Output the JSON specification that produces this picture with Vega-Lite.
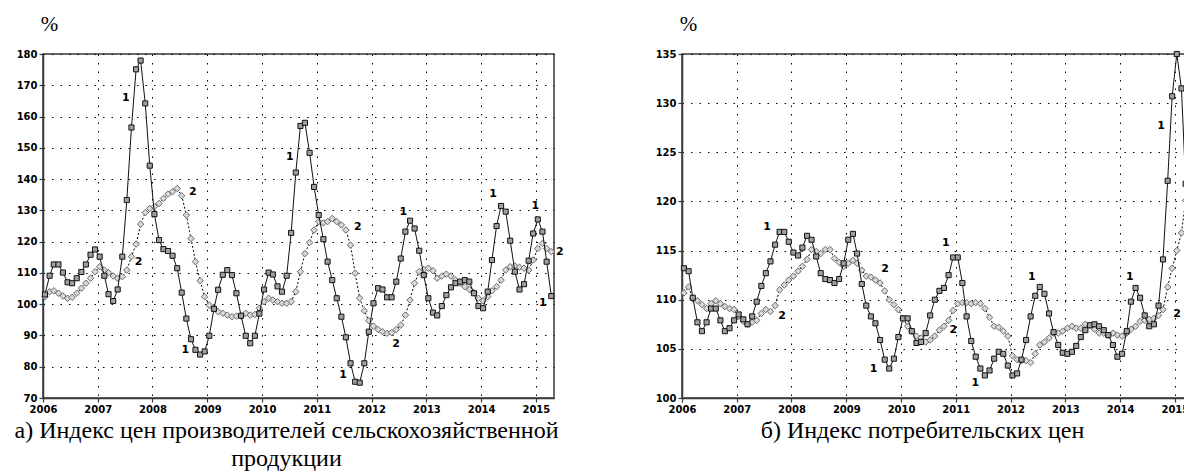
{
  "$schema": "https://vega.github.io/schema/vega-lite/v6.json",
  "background": "white",
  "padding": {"left": 13, "top": 12, "right": 0, "bottom": 0},
  "bounds": "flush",
  "spacing": 128,
  "config": {
    "view": {"stroke": "#3a3a3a", "strokeWidth": 1.5},
    "axis": {
      "domainColor": "#3a3a3a", "domainWidth": 1.5,
      "tickColor": "#3a3a3a", "tickWidth": 1.2, "tickSize": 4,
      "gridColor": "#000", "gridDash": [1.5, 7], "gridWidth": 1, "gridOpacity": 1,
      "labelFont": "DejaVu Sans", "labelFontWeight": "bold", "labelFontSize": 10, "labelColor": "#000", "labelPadding": 2, "labelOverlap": false,
      "titleFont": "Liberation Serif", "titleFontWeight": "normal", "titleColor": "#000"
    }
  },
  "datasets": {
    "agri": [
      {"d":"2006-01-14","a":103.1,"b":102.4},{"d":"2006-02-14","a":109.1,"b":104.0},{"d":"2006-03-14","a":112.7,"b":104.3},{"d":"2006-04-14","a":112.7,"b":103.5},{"d":"2006-05-14","a":110.1,"b":102.6},{"d":"2006-06-14","a":107.0,"b":101.9},{"d":"2006-07-14","a":106.7,"b":102.2},{"d":"2006-08-14","a":108.3,"b":103.5},{"d":"2006-09-14","a":110.3,"b":105.1},{"d":"2006-10-14","a":112.7,"b":106.7},{"d":"2006-11-14","a":115.8,"b":108.3},{"d":"2006-12-14","a":117.5,"b":110.4},
      {"d":"2007-01-14","a":115.2,"b":112.0},{"d":"2007-02-14","a":109.1,"b":110.9},{"d":"2007-03-14","a":103.2,"b":110.1},{"d":"2007-04-14","a":101.0,"b":109.0},{"d":"2007-05-14","a":104.7,"b":108.3},{"d":"2007-06-14","a":115.2,"b":108.8},{"d":"2007-07-14","a":133.3,"b":110.9},{"d":"2007-08-14","a":156.5,"b":115.2},{"d":"2007-09-14","a":175.1,"b":119.2},{"d":"2007-10-14","a":177.9,"b":125.6},{"d":"2007-11-14","a":164.2,"b":129.3},{"d":"2007-12-14","a":144.3,"b":130.6},
      {"d":"2008-01-14","a":128.8,"b":131.2},{"d":"2008-02-14","a":120.5,"b":132.2},{"d":"2008-03-14","a":117.6,"b":133.8},{"d":"2008-04-14","a":117.0,"b":135.2},{"d":"2008-05-14","a":115.5,"b":136.0},{"d":"2008-06-14","a":111.5,"b":137.0},{"d":"2008-07-14","a":103.7,"b":134.7},{"d":"2008-08-14","a":95.4,"b":128.5},{"d":"2008-09-14","a":88.8,"b":121.0},{"d":"2008-10-14","a":85.4,"b":113.6},{"d":"2008-11-14","a":83.9,"b":107.5},{"d":"2008-12-14","a":84.9,"b":102.4},
      {"d":"2009-01-14","a":89.9,"b":99.7},{"d":"2009-02-14","a":98.5,"b":98.7},{"d":"2009-03-14","a":104.6,"b":97.6},{"d":"2009-04-14","a":109.4,"b":97.1},{"d":"2009-05-14","a":110.9,"b":96.5},{"d":"2009-06-14","a":109.3,"b":96.0},{"d":"2009-07-14","a":103.5,"b":96.2},{"d":"2009-08-14","a":96.3,"b":96.2},{"d":"2009-09-14","a":89.9,"b":97.1},{"d":"2009-10-14","a":87.5,"b":96.5},{"d":"2009-11-14","a":89.9,"b":96.7},{"d":"2009-12-14","a":97.0,"b":98.7},
      {"d":"2010-01-14","a":104.7,"b":100.8},{"d":"2010-02-14","a":110.1,"b":101.9},{"d":"2010-03-14","a":109.5,"b":101.3},{"d":"2010-04-14","a":105.7,"b":100.8},{"d":"2010-05-14","a":104.0,"b":100.3},{"d":"2010-06-14","a":109.1,"b":100.3},{"d":"2010-07-14","a":122.8,"b":100.8},{"d":"2010-08-14","a":142.1,"b":104.0},{"d":"2010-09-14","a":157.0,"b":110.4},{"d":"2010-10-14","a":158.0,"b":116.2},{"d":"2010-11-14","a":148.4,"b":119.7},{"d":"2010-12-14","a":137.5,"b":123.7},
      {"d":"2011-01-14","a":128.5,"b":126.4},{"d":"2011-02-14","a":120.8,"b":126.0},{"d":"2011-03-14","a":113.6,"b":126.4},{"d":"2011-04-14","a":107.7,"b":127.4},{"d":"2011-05-14","a":101.9,"b":126.4},{"d":"2011-06-14","a":96.0,"b":125.3},{"d":"2011-07-14","a":89.4,"b":123.7},{"d":"2011-08-14","a":81.1,"b":118.9},{"d":"2011-09-14","a":75.2,"b":109.9},{"d":"2011-10-14","a":74.9,"b":101.9},{"d":"2011-11-14","a":81.1,"b":97.9},{"d":"2011-12-14","a":91.2,"b":94.7},
      {"d":"2012-01-14","a":100.3,"b":93.0},{"d":"2012-02-14","a":105.1,"b":91.9},{"d":"2012-03-14","a":104.7,"b":91.2},{"d":"2012-04-14","a":102.2,"b":90.7},{"d":"2012-05-14","a":102.2,"b":90.9},{"d":"2012-06-14","a":107.2,"b":91.9},{"d":"2012-07-14","a":114.6,"b":93.3},{"d":"2012-08-14","a":123.2,"b":96.5},{"d":"2012-09-14","a":126.7,"b":101.3},{"d":"2012-10-14","a":124.2,"b":106.7},{"d":"2012-11-14","a":117.1,"b":110.4},{"d":"2012-12-14","a":109.3,"b":111.1},
      {"d":"2013-01-14","a":101.9,"b":111.5},{"d":"2013-02-14","a":97.3,"b":110.7},{"d":"2013-03-14","a":96.4,"b":108.3},{"d":"2013-04-14","a":99.4,"b":109.0},{"d":"2013-05-14","a":102.9,"b":109.6},{"d":"2013-06-14","a":105.4,"b":109.0},{"d":"2013-07-14","a":106.7,"b":107.7},{"d":"2013-08-14","a":107.2,"b":106.7},{"d":"2013-09-14","a":107.7,"b":105.6},{"d":"2013-10-14","a":107.2,"b":104.7},{"d":"2013-11-14","a":103.5,"b":103.7},{"d":"2013-12-14","a":99.4,"b":101.9},
      {"d":"2014-01-14","a":98.7,"b":101.1},{"d":"2014-02-14","a":104.0,"b":102.4},{"d":"2014-03-14","a":114.1,"b":104.3},{"d":"2014-04-14","a":125.0,"b":105.6},{"d":"2014-05-14","a":131.4,"b":107.7},{"d":"2014-06-14","a":129.6,"b":110.9},{"d":"2014-07-14","a":120.3,"b":112.0},{"d":"2014-08-14","a":110.4,"b":112.2},{"d":"2014-09-14","a":104.7,"b":111.8},{"d":"2014-10-14","a":106.4,"b":111.5},{"d":"2014-11-14","a":113.9,"b":110.9},{"d":"2014-12-14","a":122.6,"b":114.1},
      {"d":"2015-01-14","a":127.1,"b":117.8},{"d":"2015-02-14","a":123.2,"b":119.4},{"d":"2015-03-14","a":113.6,"b":117.8},{"d":"2015-04-14","a":102.6,"b":116.8}
    ],
    "cpi": [
      {"d":"2006-01-14","a":113.2,"b":110.7},{"d":"2006-02-14","a":112.9,"b":111.3},{"d":"2006-03-14","a":110.2,"b":110.1},{"d":"2006-04-14","a":107.7,"b":109.9},{"d":"2006-05-14","a":106.8,"b":109.5},{"d":"2006-06-14","a":107.7,"b":109.1},{"d":"2006-07-14","a":109.1,"b":109.6},{"d":"2006-08-14","a":109.1,"b":109.9},{"d":"2006-09-14","a":107.9,"b":109.6},{"d":"2006-10-14","a":106.8,"b":109.3},{"d":"2006-11-14","a":107.1,"b":109.1},{"d":"2006-12-14","a":107.9,"b":109.0},
      {"d":"2007-01-14","a":108.5,"b":108.3},{"d":"2007-02-14","a":108.0,"b":107.8},{"d":"2007-03-14","a":107.5,"b":107.5},{"d":"2007-04-14","a":108.3,"b":107.7},{"d":"2007-05-14","a":109.8,"b":107.9},{"d":"2007-06-14","a":111.4,"b":108.6},{"d":"2007-07-14","a":112.7,"b":109.0},{"d":"2007-08-14","a":113.9,"b":108.8},{"d":"2007-09-14","a":115.6,"b":109.4},{"d":"2007-10-14","a":116.9,"b":111.0},{"d":"2007-11-14","a":116.9,"b":111.5},{"d":"2007-12-14","a":115.9,"b":112.0},
      {"d":"2008-01-14","a":114.8,"b":112.4},{"d":"2008-02-14","a":114.5,"b":112.9},{"d":"2008-03-14","a":115.3,"b":113.4},{"d":"2008-04-14","a":116.5,"b":114.1},{"d":"2008-05-14","a":116.1,"b":115.1},{"d":"2008-06-14","a":114.4,"b":114.9},{"d":"2008-07-14","a":112.7,"b":114.7},{"d":"2008-08-14","a":112.1,"b":115.1},{"d":"2008-09-14","a":112.0,"b":115.1},{"d":"2008-10-14","a":111.7,"b":114.2},{"d":"2008-11-14","a":112.1,"b":113.8},{"d":"2008-12-14","a":113.7,"b":113.4},
      {"d":"2009-01-14","a":116.1,"b":113.7},{"d":"2009-02-14","a":116.7,"b":114.0},{"d":"2009-03-14","a":114.7,"b":113.7},{"d":"2009-04-14","a":111.6,"b":113.0},{"d":"2009-05-14","a":109.4,"b":112.4},{"d":"2009-06-14","a":108.3,"b":112.3},{"d":"2009-07-14","a":107.6,"b":112.0},{"d":"2009-08-14","a":105.9,"b":111.7},{"d":"2009-09-14","a":103.9,"b":110.9},{"d":"2009-10-14","a":103.0,"b":110.0},{"d":"2009-11-14","a":104.0,"b":109.5},{"d":"2009-12-14","a":106.2,"b":109.0},
      {"d":"2010-01-14","a":108.1,"b":108.1},{"d":"2010-02-14","a":108.1,"b":107.3},{"d":"2010-03-14","a":106.8,"b":106.8},{"d":"2010-04-14","a":105.6,"b":106.3},{"d":"2010-05-14","a":105.7,"b":106.1},{"d":"2010-06-14","a":106.6,"b":105.7},{"d":"2010-07-14","a":108.4,"b":105.9},{"d":"2010-08-14","a":110.0,"b":106.3},{"d":"2010-09-14","a":110.9,"b":106.9},{"d":"2010-10-14","a":111.2,"b":107.3},{"d":"2010-11-14","a":112.5,"b":107.9},{"d":"2010-12-14","a":114.3,"b":108.9},
      {"d":"2011-01-14","a":114.3,"b":109.6},{"d":"2011-02-14","a":111.7,"b":109.7},{"d":"2011-03-14","a":108.3,"b":109.7},{"d":"2011-04-14","a":105.8,"b":109.6},{"d":"2011-05-14","a":104.2,"b":109.7},{"d":"2011-06-14","a":103.0,"b":109.6},{"d":"2011-07-14","a":102.3,"b":109.1},{"d":"2011-08-14","a":102.8,"b":108.2},{"d":"2011-09-14","a":104.0,"b":107.3},{"d":"2011-10-14","a":104.7,"b":107.2},{"d":"2011-11-14","a":104.5,"b":106.8},{"d":"2011-12-14","a":103.3,"b":106.3},
      {"d":"2012-01-14","a":102.3,"b":104.3},{"d":"2012-02-14","a":102.5,"b":103.9},{"d":"2012-03-14","a":103.9,"b":103.8},{"d":"2012-04-14","a":105.9,"b":103.8},{"d":"2012-05-14","a":108.3,"b":103.6},{"d":"2012-06-14","a":110.4,"b":104.5},{"d":"2012-07-14","a":111.3,"b":105.4},{"d":"2012-08-14","a":110.6,"b":105.7},{"d":"2012-09-14","a":108.6,"b":106.1},{"d":"2012-10-14","a":106.7,"b":106.6},{"d":"2012-11-14","a":105.4,"b":106.6},{"d":"2012-12-14","a":104.6,"b":106.8},
      {"d":"2013-01-14","a":104.5,"b":107.1},{"d":"2013-02-14","a":104.7,"b":107.3},{"d":"2013-03-14","a":105.3,"b":107.1},{"d":"2013-04-14","a":106.2,"b":107.1},{"d":"2013-05-14","a":106.9,"b":107.5},{"d":"2013-06-14","a":107.4,"b":107.4},{"d":"2013-07-14","a":107.5,"b":107.0},{"d":"2013-08-14","a":107.3,"b":106.6},{"d":"2013-09-14","a":106.9,"b":106.6},{"d":"2013-10-14","a":106.4,"b":106.4},{"d":"2013-11-14","a":105.4,"b":106.6},{"d":"2013-12-14","a":104.2,"b":106.4},
      {"d":"2014-01-14","a":104.5,"b":106.3},{"d":"2014-02-14","a":106.8,"b":106.6},{"d":"2014-03-14","a":109.8,"b":107.0},{"d":"2014-04-14","a":111.2,"b":107.3},{"d":"2014-05-14","a":110.2,"b":107.8},{"d":"2014-06-14","a":108.4,"b":107.9},{"d":"2014-07-14","a":107.3,"b":108.0},{"d":"2014-08-14","a":107.5,"b":108.1},{"d":"2014-09-14","a":109.4,"b":108.4},{"d":"2014-10-14","a":114.1,"b":109.0},{"d":"2014-11-14","a":122.1,"b":111.3},{"d":"2014-12-14","a":130.7,"b":113.2},
      {"d":"2015-01-14","a":135.0,"b":115.0},{"d":"2015-02-14","a":131.5,"b":116.8},{"d":"2015-03-14","a":121.8,"b":120.1},{"d":"2015-04-14","a":116.0,"b":122.0}
    ],
    "agriLab": [
      {"d":"2007-07-08","v":165.9,"t":"1"},{"d":"2008-09-27","v":135.9,"t":"2"},{"d":"2007-10-01","v":113.5,"t":"2"},{"d":"2008-08-07","v":85.3,"t":"1"},{"d":"2010-07-05","v":147.1,"t":"1"},{"d":"2011-10-01","v":124.7,"t":"2"},{"d":"2012-07-31","v":129.5,"t":"1"},{"d":"2012-06-13","v":87.3,"t":"2"},{"d":"2011-06-25","v":77.3,"t":"1"},{"d":"2014-03-22","v":135.2,"t":"1"},{"d":"2014-12-28","v":131.4,"t":"1"},{"d":"2015-06-10","v":116.7,"t":"2"},{"d":"2015-02-17","v":100.4,"t":"1"}
    ],
    "cpiLab": [
      {"d":"2007-07-23","v":117.4,"t":"1"},{"d":"2007-10-30","v":108.3,"t":"2"},{"d":"2009-09-16","v":113.1,"t":"2"},{"d":"2009-07-02","v":103.0,"t":"1"},{"d":"2010-10-27","v":115.8,"t":"1"},{"d":"2010-12-16","v":106.9,"t":"2"},{"d":"2011-05-11","v":101.5,"t":"1"},{"d":"2012-05-22","v":112.3,"t":"1"},{"d":"2014-03-07","v":112.3,"t":"1"},{"d":"2015-01-15","v":108.5,"t":"2"},{"d":"2014-10-01","v":127.7,"t":"1"}
    ]
  },
  "hconcat": [
    {
      "width": 511, "height": 344,
      "layer": [
        {
          "data": {"name": "agri"},
          "mark": {"type": "line", "color": "#000", "strokeWidth": 1, "strokeDash": [2, 2]},
          "encoding": {
            "x": {"field": "d", "type": "temporal",
              "scale": {"domain": ["2006-01-01", "2015-05-02"]},
              "axis": {"values": [{"year":2006},{"year":2007},{"year":2008},{"year":2009},{"year":2010},{"year":2011},{"year":2012},{"year":2013},{"year":2014},{"year":2015}],
                "tickCount": 20, "format": "%Y", "grid": true, "labelFlush": false, "labelOverlap": false,
                "title": ["а) Индекс цен производителей сельскохозяйственной", "продукции"],
                "titleFontSize": 24, "titleLineHeight": 28, "titleX": 243, "titleY": 20, "titleAlign": "center", "titleBaseline": "top", "titleAnchor": null}},
            "y": {"field": "b", "type": "quantitative",
              "scale": {"domain": [70, 180], "nice": false, "zero": false},
              "axis": {"values": [70,80,90,100,110,120,130,140,150,160,170,180], "tickCount": 20, "grid": true, "labelOverlap": false,
                "title": "%", "titleAngle": 0, "titleX": 6, "titleY": -24, "titleAlign": "center", "titleBaseline": "alphabetic", "titleFontSize": 21}}
          }
        },
        {
          "data": {"name": "agri"},
          "mark": {"type": "point", "shape": "diamond", "filled": true, "fill": "#d8d8d8", "stroke": "#6a6a6a", "strokeWidth": 1, "size": 42, "opacity": 1},
          "encoding": {"x": {"field": "d", "type": "temporal"}, "y": {"field": "b", "type": "quantitative"}}
        },
        {
          "data": {"name": "agri"},
          "mark": {"type": "line", "color": "#111", "strokeWidth": 1},
          "encoding": {"x": {"field": "d", "type": "temporal"}, "y": {"field": "a", "type": "quantitative"}}
        },
        {
          "data": {"name": "agri"},
          "mark": {"type": "point", "shape": "square", "filled": true, "fill": "#a0a0a0", "stroke": "#111", "strokeWidth": 1, "size": 26, "opacity": 1},
          "encoding": {"x": {"field": "d", "type": "temporal"}, "y": {"field": "a", "type": "quantitative"}}
        },
        {
          "data": {"name": "agriLab"},
          "mark": {"type": "text", "font": "DejaVu Sans", "fontWeight": "bold", "fontSize": 11, "color": "#000", "align": "center", "baseline": "middle"},
          "encoding": {"x": {"field": "d", "type": "temporal"}, "y": {"field": "v", "type": "quantitative"}, "text": {"field": "t"}}
        }
      ]
    },
    {
      "width": 511, "height": 344,
      "layer": [
        {
          "data": {"name": "cpi"},
          "mark": {"type": "line", "color": "#000", "strokeWidth": 1, "strokeDash": [2, 2]},
          "encoding": {
            "x": {"field": "d", "type": "temporal",
              "scale": {"domain": ["2006-01-01", "2015-05-02"]},
              "axis": {"values": [{"year":2006},{"year":2007},{"year":2008},{"year":2009},{"year":2010},{"year":2011},{"year":2012},{"year":2013},{"year":2014},{"year":2015}],
                "tickCount": 20, "format": "%Y", "grid": true, "labelFlush": false, "labelOverlap": false,
                "title": "б) Индекс потребительских цен",
                "titleFontSize": 24, "titleX": 240, "titleY": 20, "titleAlign": "center", "titleBaseline": "top", "titleAnchor": null}},
            "y": {"field": "b", "type": "quantitative",
              "scale": {"domain": [100, 135], "nice": false, "zero": false},
              "axis": {"values": [100,105,110,115,120,125,130,135], "tickCount": 20, "grid": true, "labelOverlap": false,
                "title": "%", "titleAngle": 0, "titleX": 6, "titleY": -24, "titleAlign": "center", "titleBaseline": "alphabetic", "titleFontSize": 21}}
          }
        },
        {
          "data": {"name": "cpi"},
          "mark": {"type": "point", "shape": "diamond", "filled": true, "fill": "#d8d8d8", "stroke": "#6a6a6a", "strokeWidth": 1, "size": 42, "opacity": 1},
          "encoding": {"x": {"field": "d", "type": "temporal"}, "y": {"field": "b", "type": "quantitative"}}
        },
        {
          "data": {"name": "cpi"},
          "mark": {"type": "line", "color": "#111", "strokeWidth": 1},
          "encoding": {"x": {"field": "d", "type": "temporal"}, "y": {"field": "a", "type": "quantitative"}}
        },
        {
          "data": {"name": "cpi"},
          "mark": {"type": "point", "shape": "square", "filled": true, "fill": "#a0a0a0", "stroke": "#111", "strokeWidth": 1, "size": 26, "opacity": 1},
          "encoding": {"x": {"field": "d", "type": "temporal"}, "y": {"field": "a", "type": "quantitative"}}
        },
        {
          "data": {"name": "cpiLab"},
          "mark": {"type": "text", "font": "DejaVu Sans", "fontWeight": "bold", "fontSize": 11, "color": "#000", "align": "center", "baseline": "middle"},
          "encoding": {"x": {"field": "d", "type": "temporal"}, "y": {"field": "v", "type": "quantitative"}, "text": {"field": "t"}}
        }
      ]
    }
  ]
}
